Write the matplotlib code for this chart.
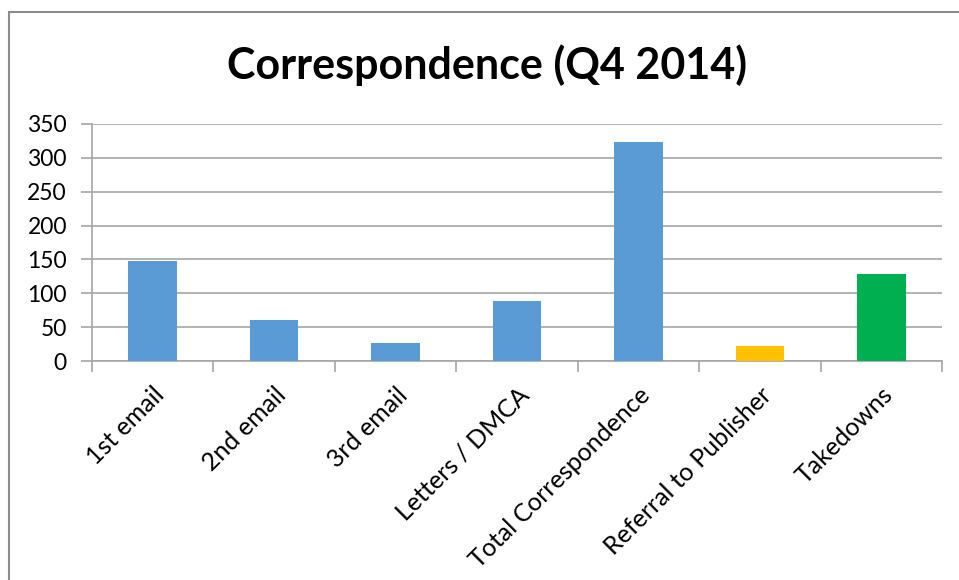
import matplotlib.pyplot as plt
from matplotlib.patches import Rectangle

# Data
categories = ['1st email', '2nd email', '3rd email', 'Letters / DMCA',
              'Total Correspondence', 'Referral to Publisher', 'Takedowns']
values = [147, 60, 26, 88, 323, 22, 128]
colors = ['#5B9BD5', '#5B9BD5', '#5B9BD5', '#5B9BD5', '#5B9BD5', '#FFC000', '#00B050']
yticks = [0, 50, 100, 150, 200, 250, 300, 350]

plt.rcParams['font.family'] = ['Lato', 'DejaVu Sans']

fig = plt.figure(figsize=(9.59, 5.80), dpi=100)
ax = fig.add_axes([92 / 959, 1 - 361 / 580, (942 - 92) / 959, (361 - 124) / 580])

x = list(range(len(categories)))
ax.bar(x, values, width=0.4, color=colors, zorder=3)

ax.set_xlim(-0.5, len(categories) - 0.5)
ax.set_ylim(0, 350)
ax.set_yticks(yticks)
ax.set_yticklabels([str(v) for v in yticks], fontsize=16.5, color='#000000')
ax.yaxis.grid(True, color='#A6A6A6', linewidth=1.2, zorder=0)
ax.tick_params(axis='y', length=8, color='#A6A6A6', width=1.2, pad=10)

# category boundary ticks below the baseline, labels at centres
ax.set_xticks([i - 0.5 for i in range(len(categories) + 1)], minor=False)
ax.set_xticklabels([])
ax.tick_params(axis='x', which='major', length=8, color='#A6A6A6', width=1.2)
ax.set_xticks(x, minor=True)
ax.set_xticklabels(categories, minor=True, rotation=45, ha='right',
                   rotation_mode='anchor', fontsize=18)
ax.tick_params(axis='x', which='minor', length=0, pad=16)

for side in ['top', 'right']:
    ax.spines[side].set_visible(False)
for side in ['left', 'bottom']:
    ax.spines[side].set_color('#A6A6A6')
    ax.spines[side].set_linewidth(1.2)

fig.text(487 / 959, 1 - 65 / 580, 'Correspondence (Q4 2014)', ha='center', va='center',
         fontsize=31, fontweight='bold')

# outer chart border
fig.patches.append(Rectangle((9 / 959, -0.05), 1.2, 1 - 12 / 580 + 0.05,
                             transform=fig.transFigure, fill=False,
                             edgecolor='#8C8C8C', linewidth=1.5))

plt.savefig('out.png', dpi=100)
